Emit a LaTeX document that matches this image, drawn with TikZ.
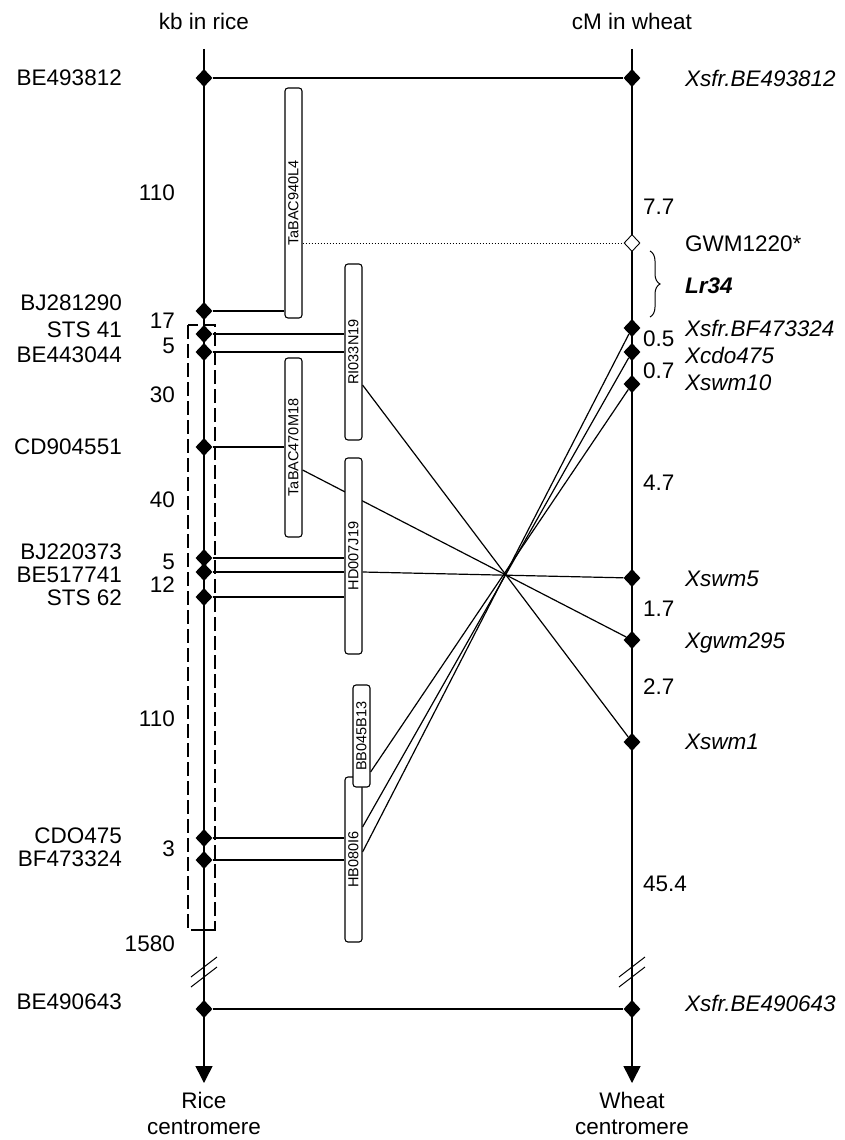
\documentclass[tikz,border=0pt]{standalone}
\usepackage{fontspec}
\setmainfont{Liberation Sans}
\usetikzlibrary{shapes.geometric,decorations.pathreplacing,backgrounds,arrows.meta}
\begin{document}
\begin{tikzpicture}[x=1pt,y=-1pt,
 mk/.style={diamond,fill=black,inner sep=0,minimum width=17pt,minimum height=18pt},
 omk/.style={diamond,draw=black,fill=white,line width=0.9pt,inner sep=0,minimum width=16pt,minimum height=17pt},
 bac/.style={draw,fill=white,rounded corners=3pt,line width=1.1pt,inner sep=0,minimum width=17pt,font=\fontsize{14.5}{14.5}\selectfont},
 lab/.style={inner sep=0,font=\fontsize{22.5}{26}\selectfont},
 ilab/.style={lab,font=\fontsize{22.5}{26}\selectfont\itshape},
 ax/.style={line width=1.5pt},
 cn/.style={line width=1.2pt},
 dbox/.style={line width=1.1pt,dash pattern=on 14pt off 5pt},
]
\useasboundingbox (0,0) rectangle (845,1140);

% markers on rice axis
\node[mk] (r1) at (204,78) {};
\node[mk] (r2) at (204,311) {};
\node[mk] (r3) at (204,334) {};
\node[mk] (r4) at (204,352) {};
\node[mk] (r5) at (204,447) {};
\node[mk] (r6) at (204,558) {};
\node[mk] (r7) at (204,572) {};
\node[mk] (r8) at (204,597) {};
\node[mk] (r9) at (204,838) {};
\node[mk] (r10) at (204,860) {};
\node[mk] (r11) at (204,1009) {};
% markers on wheat axis
\node[mk] (w1) at (632,78) {};
\node[omk] (wg) at (632,243) {};
\node[mk] (w2) at (632,328) {};
\node[mk] (w3) at (632,352) {};
\node[mk] (w4) at (632,384) {};
\node[mk] (w5) at (632,578) {};
\node[mk] (w6) at (632,640) {};
\node[mk] (w7) at (632,742) {};
\node[mk] (w8) at (632,1009) {};

\coordinate (rtop) at (204,49);
\coordinate (rend) at (204,1083);
\coordinate (wtop) at (632,49);
\coordinate (wend) at (632,1083);

% BAC boxes
\node[bac,minimum height=230pt] (b1) at (293.5,203) {\rotatebox{90}{TaBAC940L4}};
\node[bac,minimum height=176pt] (b2) at (353.5,352) {\rotatebox{90}{RI033N19}};
\node[bac,minimum height=179pt] (b3) at (293.5,447.5) {\rotatebox{90}{TaBAC470M18}};
\node[bac,minimum height=196pt] (b4) at (353.5,556) {\rotatebox{90}{HD007J19}};
\node[bac,minimum height=165pt] (b6) at (353.5,859.5) {\rotatebox{90}{HB080I6}};
\node[bac,minimum height=102pt] (b5) at (361.5,736) {\rotatebox{90}{BB045B13}};

\begin{pgfonlayer}{background}
\draw[ax,-{Triangle[length=17pt,width=17pt]}] (rtop) -- (rend);
\draw[ax,-{Triangle[length=17pt,width=17pt]}] (wtop) -- (wend);
\draw[cn] (r1) -- (w1);
\draw[cn] (r11) -- (w8);
\draw[cn] (r2) -- (r2 -| b1.west);
\draw[cn] (r3) -- (r3 -| b2.west);
\draw[cn] (r4) -- (r4 -| b2.west);
\draw[cn] (r5) -- (r5 -| b3.west);
\draw[cn] (r6) -- (r6 -| b4.west);
\draw[cn] (r7) -- (r7 -| b4.west);
\draw[cn] (r8) -- (r8 -| b4.west);
\draw[cn] (r9) -- (r9 -| b6.west);
\draw[cn] (r10) -- (r10 -| b6.west);
\draw[line width=1pt,dotted] (b1.east |- wg) -- (wg);
\draw[cn] (b2.east |- 0,385) -- (w7);
\draw[cn] (b3.east |- 0,470) -- (w6);
\draw[cn] (b4.east |- r7) -- (w5);
\draw[cn] (b5.east |- 0,772) -- (w4);
\draw[cn] (b6.east |- 0,827) -- (w3);
\draw[cn] (b6.east |- 0,852) -- (w2);
\end{pgfonlayer}

% dashed region and tick
\draw[dbox] (188,325) rectangle (215,930);
\draw[cn] (193,930) -- (210,930);
% break marks
\draw[line width=1pt] (191,977) -- (217,957);
\draw[line width=1pt] (191,987) -- (217,967);
\draw[line width=1pt] (619,977) -- (645,957);
\draw[line width=1pt] (619,987) -- (645,967);
% brace
\draw[decorate,decoration={brace,amplitude=10pt},line width=1pt] (650,251) -- (650,317);

% headers
\node[lab,anchor=base] (hr) at (204,30) {kb in rice};
\node[lab,anchor=base] (hw) at (632,30) {cM in wheat};
\node[lab,anchor=base] (fr1) at (204,1108) {Rice};
\node[lab,anchor=base] (fr2) at (204,1134) {centromere};
\node[lab,anchor=base] (fw1) at (632,1108) {Wheat};
\node[lab,anchor=base] (fw2) at (632,1134) {centromere};

% rice marker names
\node[lab,anchor=base east] at (122,85) {BE493812};
\node[lab,anchor=base east] at (122,310) {BJ281290};
\node[lab,anchor=base east] at (122,337) {STS 41};
\node[lab,anchor=base east] at (122,362) {BE443044};
\node[lab,anchor=base east] at (122,454) {CD904551};
\node[lab,anchor=base east] at (122,559) {BJ220373};
\node[lab,anchor=base east] at (122,582) {BE517741};
\node[lab,anchor=base east] at (122,605) {STS 62};
\node[lab,anchor=base east] at (122,843) {CDO475};
\node[lab,anchor=base east] at (122,866) {BF473324};
\node[lab,anchor=base east] at (122,1009) {BE490643};
% rice distances
\node[lab,anchor=base east] at (175,200) {110};
\node[lab,anchor=base east] at (175,328) {17};
\node[lab,anchor=base east] at (175,353) {5};
\node[lab,anchor=base east] at (175,402) {30};
\node[lab,anchor=base east] at (175,507) {40};
\node[lab,anchor=base east] at (175,569) {5};
\node[lab,anchor=base east] at (175,592) {12};
\node[lab,anchor=base east] at (175,726) {110};
\node[lab,anchor=base east] at (175,856) {3};
\node[lab,anchor=base east] at (175,951) {1580};
% wheat marker names
\node[ilab,anchor=base west] at (685,86) {Xsfr.BE493812};
\node[lab,anchor=base west] at (685,251) {GWM1220*};
\node[lab,anchor=base west,font=\fontsize{22.5}{26}\selectfont\bfseries\itshape] at (685,293) {Lr34};
\node[ilab,anchor=base west] at (685,336) {Xsfr.BF473324};
\node[ilab,anchor=base west] at (685,363) {Xcdo475};
\node[ilab,anchor=base west] at (685,390) {Xswm10};
\node[ilab,anchor=base west] at (685,586) {Xswm5};
\node[ilab,anchor=base west] at (685,648) {Xgwm295};
\node[ilab,anchor=base west] at (685,749) {Xswm1};
\node[ilab,anchor=base west] at (685,1011) {Xsfr.BE490643};
% wheat distances
\node[lab,anchor=base west] at (643,214) {7.7};
\node[lab,anchor=base west] at (643,346) {0.5};
\node[lab,anchor=base west] at (643,378) {0.7};
\node[lab,anchor=base west] at (643,490) {4.7};
\node[lab,anchor=base west] at (643,616) {1.7};
\node[lab,anchor=base west] at (643,694) {2.7};
\node[lab,anchor=base west] at (643,891) {45.4};
\end{tikzpicture}
\end{document}
